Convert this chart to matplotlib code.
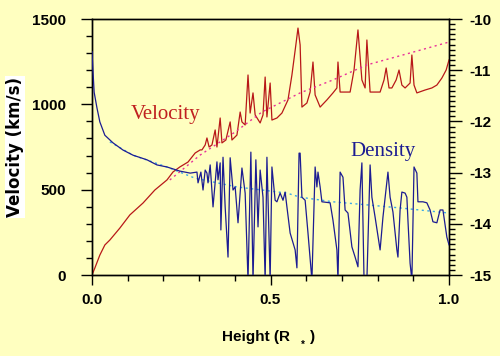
import matplotlib
matplotlib.use("Agg")
import matplotlib.pyplot as plt
from matplotlib.ticker import MultipleLocator

# ---- data ----
vel_h = [0.000, 0.008, 0.022, 0.036, 0.050, 0.078, 0.106, 0.143, 0.176, 0.210,
         0.227, 0.246, 0.269, 0.289, 0.303, 0.308, 0.317, 0.322, 0.328, 0.336,
         0.345, 0.350, 0.359, 0.364, 0.375, 0.387, 0.392, 0.406, 0.415, 0.420,
         0.429, 0.437, 0.443, 0.451, 0.457, 0.471, 0.479, 0.485, 0.490, 0.499,
         0.504, 0.518, 0.532, 0.549, 0.560, 0.571, 0.577, 0.583, 0.588, 0.602,
         0.611, 0.619, 0.625, 0.639, 0.658, 0.675, 0.686, 0.689, 0.695, 0.723,
         0.734, 0.745, 0.756, 0.765, 0.770, 0.779, 0.807, 0.818, 0.824, 0.832,
         0.840, 0.852, 0.860, 0.868, 0.877, 0.891, 0.896, 0.902, 0.910, 0.933,
         0.952, 0.966, 0.980, 0.992, 1.000]
vel_v = [0, 41, 117, 176, 205, 275, 352, 422, 498, 557,
         604, 633, 662, 715, 733, 733, 762, 803, 750, 762,
         850, 750, 920, 774, 791, 897, 791, 820, 955, 897,
         879, 1172, 949, 1067, 938, 891, 938, 1160, 926, 1125,
         908, 920, 949, 1026, 1172, 1348, 1447, 1348, 984, 1008,
         1072, 1248, 1055, 984, 1026, 1067, 1096, 1248, 1072, 1072,
         1201, 1436, 1143, 1096, 1377, 1072, 1072, 1143, 1213, 1096,
         1096, 1143, 1201, 1113, 1096, 1125, 1289, 1113, 1067, 1084,
         1096, 1113, 1154, 1201, 1260]

vtrend_h = [0.218, 0.303, 0.401, 0.476, 0.583, 0.675, 0.770, 0.891, 1.000]
vtrend_v = [557, 703, 838, 955, 1067, 1143, 1231, 1301, 1365]

den_h = [0.000, 0.003, 0.006, 0.014, 0.022, 0.036, 0.059, 0.087, 0.115, 0.154,
         0.182, 0.210, 0.246, 0.275, 0.294, 0.297, 0.305, 0.311, 0.317, 0.322,
         0.325, 0.331, 0.339, 0.350, 0.353, 0.359, 0.361, 0.367, 0.373, 0.381,
         0.387, 0.395, 0.401, 0.409, 0.420, 0.429, 0.437, 0.445, 0.451, 0.459,
         0.465, 0.471, 0.479, 0.485, 0.490, 0.499, 0.504, 0.513, 0.518, 0.527,
         0.535, 0.541, 0.546, 0.555, 0.569, 0.574, 0.580, 0.583, 0.588, 0.597,
         0.605, 0.616, 0.625, 0.630, 0.633, 0.639, 0.644, 0.667, 0.675, 0.686,
         0.689, 0.695, 0.703, 0.709, 0.717, 0.728, 0.737, 0.745, 0.751, 0.756,
         0.762, 0.770, 0.779, 0.784, 0.793, 0.807, 0.815, 0.829, 0.835, 0.843,
         0.854, 0.857, 0.863, 0.868, 0.877, 0.882, 0.885, 0.891, 0.896, 0.902,
         0.910, 0.913, 0.927, 0.938, 0.947, 0.955, 0.966, 0.975, 0.983, 0.994,
         1.000]
den_v = [-10.64, -11.05, -11.43, -11.74, -12.01, -12.27, -12.42, -12.56, -12.66, -12.75,
         -12.85, -12.89, -12.97, -13.01, -12.99, -13.20, -12.99, -13.34, -12.95, -13.01,
         -13.20, -12.85, -13.67, -12.79, -13.14, -12.81, -14.12, -12.70, -13.67, -14.65,
         -12.71, -13.34, -13.28, -13.98, -12.91, -13.40, -15.10, -12.60, -15.10, -12.75,
         -14.06, -12.95, -13.48, -15.10, -12.70, -15.10, -12.89, -13.54, -13.57, -13.40,
         -13.54, -13.38, -13.67, -14.18, -14.51, -14.86, -12.62, -12.62, -13.48, -13.54,
         -14.18, -15.10, -12.89, -13.28, -12.99, -13.28, -13.57, -13.59, -13.93, -14.51,
         -15.10, -12.99, -13.09, -13.73, -13.79, -14.45, -14.65, -14.84, -13.34, -12.81,
         -15.10, -15.10, -12.85, -13.48, -13.87, -14.51, -13.87, -12.99, -13.48, -13.77,
         -14.51, -14.65, -13.73, -13.38, -13.40, -13.48, -13.93, -14.77, -15.10, -12.89,
         -13.01, -13.57, -13.57, -13.59, -13.73, -13.96, -13.98, -13.73, -13.73, -14.26,
         -14.41]

dtrend_h = [0.050, 0.115, 0.210, 0.289, 0.406, 0.546, 0.583, 0.675, 0.770, 0.863, 1.000]
dtrend_v = [-12.40, -12.66, -12.89, -13.11, -13.28, -13.40, -13.48, -13.57, -13.63, -13.69, -13.79]

xticks = [0.0, 0.5, 1.0]
xticklabels = ["0.0", "0.5", "1.0"]
yticks = [0, 500, 1000, 1500]
y2ticks = [-15, -14, -13, -12, -11, -10]

# ---- figure ----
BG = "#FFFFC0"
fig = plt.figure(figsize=(5.0, 3.56), dpi=100, facecolor=BG)
ax = fig.add_axes([0.184, 0.2275, 0.714, 0.7191])
ax.set_facecolor(BG)

ax.plot(vel_h, vel_v, color="#b81818", lw=0.9, zorder=3)
ax.plot(vtrend_h, vtrend_v, color="#e8309a", lw=1.0, ls=(0, (1.5, 2.5)), zorder=4)
ax.set_xlim(0, 1.0)
ax.set_ylim(0, 1500)

lab_font = dict(family="Liberation Sans", weight="bold", size=11)

ax.set_xticks(xticks)
ax.set_xticklabels(xticklabels, **lab_font)
ax.xaxis.set_minor_locator(MultipleLocator(0.1))
ax.set_yticks(yticks)
ax.set_yticklabels([str(t) for t in yticks], **lab_font)
ax.yaxis.set_minor_locator(MultipleLocator(100))

ax2 = ax.twinx()
ax2.plot(dtrend_h, dtrend_v, color="#3aa8e8", lw=1.0, ls=(0, (1.5, 2.5)), zorder=2)
ax2.plot(den_h, den_v, color="#1c1c92", lw=0.9, zorder=3)
ax2.set_ylim(-15, -10)
ax2.set_yticks(y2ticks)
ax2.set_yticklabels([str(t) for t in y2ticks], **lab_font)
ax2.yaxis.set_minor_locator(MultipleLocator(0.1))

ax.xaxis.set_tick_params(which="major", direction="out", length=7, width=1, pad=6)
ax.xaxis.set_tick_params(which="minor", direction="out", length=4, width=1)
ax.yaxis.set_tick_params(which="major", direction="out", length=8, width=1, pad=11)
ax.yaxis.set_tick_params(which="minor", direction="out", length=4, width=1)
ax2.yaxis.set_tick_params(which="major", direction="out", length=9, width=1, pad=6)
ax2.yaxis.set_tick_params(which="minor", direction="out", length=4, width=1)

for a in (ax, ax2):
    for s in a.spines.values():
        s.set_color("black")
        s.set_linewidth(1.0)

# y label with white box
fig.text(0.030, 0.587, "Velocity (km/s)", rotation=90, ha="center", va="center",
         family="DejaVu Sans", weight="bold", size=12, color="black",
         bbox=dict(facecolor="white", edgecolor="none", pad=1))

# x label
fig.text(0.444, 0.053, "Height (R", ha="left", va="center",
         family="Liberation Sans", weight="bold", size=11)
fig.text(0.606, 0.031, "*", ha="center", va="center",
         family="Liberation Sans", weight="bold", size=7)
fig.text(0.620, 0.053, ")", ha="left", va="center",
         family="Liberation Sans", weight="bold", size=11)

ax.text(0.109, 938, "Velocity", color="#c02020", family="Liberation Serif",
        size=15, ha="left", va="center", zorder=5)
ax.text(0.725, 721, "Density", color="#1c1c92", family="Liberation Serif",
        size=15, ha="left", va="center", zorder=5)

fig.savefig("out.png", dpi=100, facecolor=BG)
